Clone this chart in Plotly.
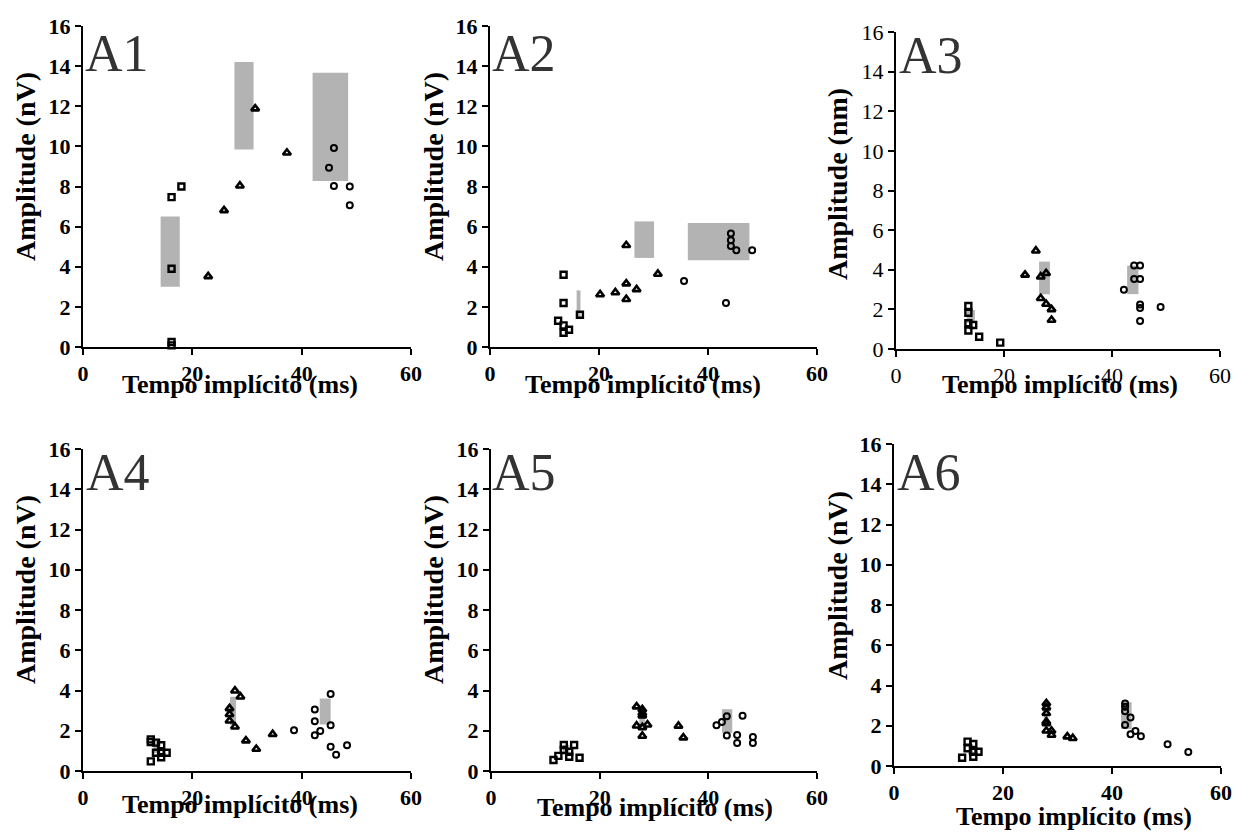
import plotly.graph_objects as go

W, H = 1235, 832

# ---------------- data ----------------
# A1
a1_sq_x = [16.2, 16.2, 16.2, 16.2, 18.0]
a1_sq_y = [0.08, 0.25, 3.9, 7.47, 8.0]
a1_tri_x = [22.9, 25.8, 28.7, 31.5, 37.3]
a1_tri_y = [3.52, 6.81, 8.04, 11.88, 9.68]
a1_cir_x = [45.0, 45.9, 45.9, 48.8, 48.8]
a1_cir_y = [8.94, 9.92, 8.02, 8.0, 7.06]
a1_rect_x0 = [14.2, 27.7, 42.0]
a1_rect_x1 = [17.7, 31.2, 48.5]
a1_rect_y0 = [3.0, 9.85, 8.27]
a1_rect_y1 = [6.5, 14.2, 13.67]

# A2
a2_sq_x = [13.5, 13.5, 12.5, 13.5, 14.5, 13.5, 16.5]
a2_sq_y = [3.6, 2.19, 1.31, 1.08, 0.86, 0.71, 1.61]
a2_tri_x = [20.2, 23.0, 25.0, 25.0, 25.0, 26.9, 30.8]
a2_tri_y = [2.62, 2.72, 5.07, 3.16, 2.38, 2.87, 3.64]
a2_cir_x = [35.6, 43.3, 44.2, 44.2, 44.2, 45.2, 48.1]
a2_cir_y = [3.29, 2.19, 5.66, 5.32, 5.03, 4.82, 4.82]
a2_rect_x0 = [15.9, 26.5, 36.3]
a2_rect_x1 = [16.6, 30.1, 47.6]
a2_rect_y0 = [1.41, 4.44, 4.32]
a2_rect_y1 = [2.82, 6.26, 6.18]

# A3
a3_sq_x = [13.4, 13.4, 13.4, 13.4, 14.3, 15.4, 19.3]
a3_sq_y = [2.17, 1.83, 1.30, 0.93, 1.21, 0.62, 0.32]
a3_tri_x = [23.9, 25.9, 26.8, 27.8, 26.8, 27.8, 28.8, 28.8]
a3_tri_y = [3.74, 4.96, 3.65, 3.82, 2.56, 2.27, 2.0, 1.46]
a3_cir_x = [42.2, 44.1, 45.2, 44.1, 45.2, 45.2, 45.2, 45.2, 49.0]
a3_cir_y = [2.99, 4.21, 4.21, 3.53, 3.53, 2.25, 2.07, 1.41, 2.12]
a3_rect_x0 = [13.1, 26.5, 42.8]
a3_rect_x1 = [14.6, 28.5, 44.9]
a3_rect_y0 = [1.31, 2.76, 2.77]
a3_rect_y1 = [1.97, 4.41, 4.21]

# A4
a4_sq_x = [12.4, 12.4, 13.35, 14.3, 13.35, 14.3, 15.3, 14.3, 12.4]
a4_sq_y = [1.57, 1.44, 1.41, 1.28, 0.91, 0.91, 0.91, 0.68, 0.48]
a4_tri_x = [27.8, 28.8, 26.8, 26.8, 26.8, 27.8, 29.8, 31.7, 34.7]
a4_tri_y = [3.99, 3.69, 3.11, 2.82, 2.5, 2.2, 1.51, 1.09, 1.83]
a4_cir_x = [38.6, 42.4, 42.4, 42.4, 43.4, 45.3, 45.3, 45.3, 46.3, 48.3]
a4_cir_y = [2.02, 3.05, 2.47, 1.78, 1.99, 3.82, 2.27, 1.2, 0.81, 1.28]
a4_rect_x0 = [12.9, 26.9, 43.3]
a4_rect_x1 = [13.9, 28.0, 45.3]
a4_rect_y0 = [0.9, 2.29, 2.31]
a4_rect_y1 = [1.6, 3.69, 3.6]

# A5
a5_sq_x = [11.5, 12.4, 13.4, 13.4, 14.4, 14.4, 15.3, 16.3]
a5_sq_y = [0.55, 0.75, 1.29, 1.04, 0.96, 0.71, 1.29, 0.66]
a5_tri_x = [26.8, 27.85, 27.85, 27.85, 26.8, 27.85, 28.8, 27.85, 34.5, 35.4]
a5_tri_y = [3.2, 3.06, 2.87, 2.75, 2.25, 2.17, 2.3, 1.74, 2.24, 1.66]
a5_cir_x = [41.5, 42.5, 43.4, 43.4, 45.3, 45.3, 46.3, 48.2, 48.2]
a5_cir_y = [2.27, 2.44, 2.72, 1.76, 1.79, 1.39, 2.75, 1.69, 1.39]
a5_rect_x0 = [13.2, 27.3, 42.5]
a5_rect_x1 = [14.4, 28.3, 44.4]
a5_rect_y0 = [0.85, 2.2, 1.89]
a5_rect_y1 = [1.3, 3.03, 3.07]

# A6
a6_sq_x = [12.5, 13.5, 13.5, 14.55, 14.55, 14.55, 15.5]
a6_sq_y = [0.41, 1.21, 0.88, 1.09, 0.71, 0.46, 0.71]
a6_tri_x = [27.95, 27.95, 27.95, 27.95, 27.95, 27.95, 28.9, 28.9, 31.8, 32.8]
a6_tri_y = [3.11, 2.9, 2.62, 2.2, 2.12, 1.75, 1.75, 1.54, 1.46, 1.38]
a6_cir_x = [42.4, 42.4, 42.4, 42.4, 43.4, 43.4, 44.3, 45.3, 50.2, 54.0]
a6_cir_y = [3.1, 2.94, 2.72, 2.04, 2.41, 1.58, 1.74, 1.48, 1.08, 0.7]
a6_rect_x0 = [13.6, 27.5, 41.65]
a6_rect_x1 = [14.5, 28.3, 43.6]
a6_rect_y0 = [0.55, 2.0, 1.84]
a6_rect_y1 = [1.1, 3.1, 3.17]

panel_labels = ["A1", "A2", "A3", "A4", "A5", "A6"]
y_titles = ["Amplitude (nV)", "Amplitude (nV)", "Amplitude (nm)",
            "Amplitude (nV)", "Amplitude (nV)", "Amplitude (nV)"]
x_title = "Tempo implícito (ms)"
x_ticks = [0, 20, 40, 60]
y_ticks = [0, 2, 4, 6, 8, 10, 12, 14, 16]

panels = [
    (a1_sq_x, a1_sq_y, a1_tri_x, a1_tri_y, a1_cir_x, a1_cir_y, a1_rect_x0, a1_rect_x1, a1_rect_y0, a1_rect_y1),
    (a2_sq_x, a2_sq_y, a2_tri_x, a2_tri_y, a2_cir_x, a2_cir_y, a2_rect_x0, a2_rect_x1, a2_rect_y0, a2_rect_y1),
    (a3_sq_x, a3_sq_y, a3_tri_x, a3_tri_y, a3_cir_x, a3_cir_y, a3_rect_x0, a3_rect_x1, a3_rect_y0, a3_rect_y1),
    (a4_sq_x, a4_sq_y, a4_tri_x, a4_tri_y, a4_cir_x, a4_cir_y, a4_rect_x0, a4_rect_x1, a4_rect_y0, a4_rect_y1),
    (a5_sq_x, a5_sq_y, a5_tri_x, a5_tri_y, a5_cir_x, a5_cir_y, a5_rect_x0, a5_rect_x1, a5_rect_y0, a5_rect_y1),
    (a6_sq_x, a6_sq_y, a6_tri_x, a6_tri_y, a6_cir_x, a6_cir_y, a6_rect_x0, a6_rect_x1, a6_rect_y0, a6_rect_y1),
]

# ---------------- layout (pixel boxes) ----------------
boxes = [(83, 411, 26, 347), (490, 817, 26, 347), (896, 1220, 32, 349),
         (83, 411, 449, 771), (491, 817, 449, 771), (894, 1221, 444, 766)]
ytitle_pos = [(25, 167), (433, 167), (837, 184), (25, 590), (433, 590), (837, 586)]
xtitle_pos = [(240, 384), (643, 384), (1060, 384), (240, 804), (655, 807), (1074, 816)]
label_pos = [(83, 53), (490, 53), (897, 55), (84, 472), (490, 472), (895, 472)]
bold_ticks = [True, True, False, True, True, True]

SERIF = "Liberation Serif, Times New Roman, serif"

fig = go.Figure()
layout = dict(width=W, height=H, margin=dict(l=0, r=0, t=0, b=0, pad=0, autoexpand=False),
              paper_bgcolor="white", plot_bgcolor="white", showlegend=False)
shapes = []
annotations = []

for i, (p, box) in enumerate(zip(panels, boxes)):
    sx, sy, tx, ty, cx, cy, rx0, rx1, ry0, ry1 = p
    n = "" if i == 0 else str(i + 1)
    xa, ya = "x" + n, "y" + n
    l, r, t, b = box
    tickfont = dict(family=SERIF, size=22, color="black",
                    weight="bold" if bold_ticks[i] else "normal")
    layout["xaxis" + n] = dict(domain=[l / W, r / W], range=[0, 60], anchor=ya,
                              tickvals=x_ticks, showline=True, linecolor="black", linewidth=2,
                              ticks="outside", ticklen=6, tickwidth=2, tickcolor="black",
                              showgrid=False, zeroline=False, tickfont=tickfont,
                              automargin=False, fixedrange=True)
    layout["yaxis" + n] = dict(domain=[1 - b / H, 1 - t / H], range=[0, 16], anchor=xa,
                              tickvals=y_ticks, showline=True, linecolor="black", linewidth=2,
                              ticks="outside", ticklen=6, tickwidth=2, tickcolor="black",
                              showgrid=False, zeroline=False, tickfont=tickfont,
                              automargin=False, fixedrange=True)
    for x0, x1, y0, y1 in zip(rx0, rx1, ry0, ry1):
        shapes.append(dict(type="rect", xref=xa, yref=ya, x0=x0, x1=x1, y0=y0, y1=y1,
                           fillcolor="#b3b3b3", line=dict(width=0), layer="below"))
    common = dict(mode="markers", xaxis=xa, yaxis=ya, cliponaxis=False, hoverinfo="x+y")
    fig.add_trace(go.Scatter(x=sx, y=sy, marker=dict(symbol="square-open", size=6,
                             color="black", line=dict(width=2.4, color="black")), **common))
    fig.add_trace(go.Scatter(x=tx, y=ty, marker=dict(symbol="triangle-up-open", size=7,
                             color="black", line=dict(width=2.6, color="black")), **common))
    fig.add_trace(go.Scatter(x=cx, y=cy, marker=dict(symbol="circle-open", size=6,
                             color="black", line=dict(width=2, color="black")), **common))

    px, py = ytitle_pos[i]
    annotations.append(dict(text=y_titles[i], xref="paper", yref="paper", x=px / W, y=1 - py / H,
                            xanchor="center", yanchor="middle", textangle=-90, showarrow=False,
                            font=dict(family=SERIF, size=28, color="black", weight="bold")))
    px, py = xtitle_pos[i]
    annotations.append(dict(text=x_title, xref="paper", yref="paper", x=px / W, y=1 - py / H,
                            xanchor="center", yanchor="middle", showarrow=False,
                            font=dict(family=SERIF, size=26, color="black", weight="bold")))
    px, py = label_pos[i]
    annotations.append(dict(text=panel_labels[i], xref="paper", yref="paper", x=px / W, y=1 - py / H,
                            xanchor="left", yanchor="middle", showarrow=False,
                            font=dict(family=SERIF, size=52, color="#333333")))

layout["shapes"] = shapes
layout["annotations"] = annotations
fig.update_layout(**layout)
fig.write_html("out.html")
